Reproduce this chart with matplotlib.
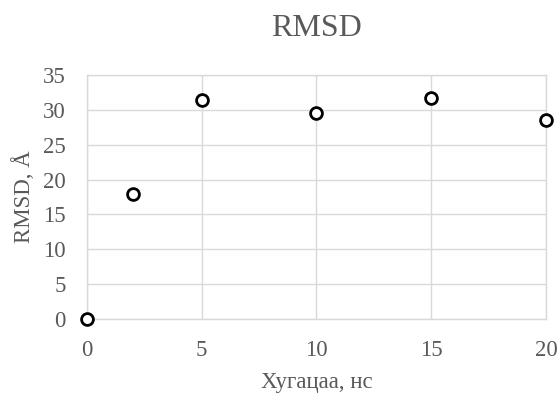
import matplotlib
matplotlib.use("Agg")
import matplotlib.pyplot as plt

# data
time_ns = [0, 2, 5, 10, 15, 20]
rmsd = [0.0, 17.9, 31.4, 29.5, 31.7, 28.6]
x_ticks = [0, 5, 10, 15, 20]
y_ticks = [0, 5, 10, 15, 20, 25, 30, 35]

text_color = "#595959"
grid_color = "#d9d9d9"

plt.rcParams["font.family"] = ["Liberation Serif", "DejaVu Serif"]

fig = plt.figure(figsize=(5.6, 3.94), dpi=100)
ax = fig.add_axes([0.155, 0.19, 0.82, 0.62])

ax.plot(time_ns, rmsd, linestyle="none", marker="o", markersize=8.5,
        markerfacecolor="white", markeredgecolor="black", markeredgewidth=2,
        clip_on=False, zorder=3)

ax.set_xlim(0, 20)
ax.set_ylim(0, 35)
ax.set_xticks(x_ticks)
ax.set_yticks(y_ticks)
ax.grid(True, color=grid_color, linewidth=1.0)
ax.set_axisbelow(True)
for s in ax.spines.values():
    s.set_color(grid_color)
    s.set_linewidth(1.0)
ax.tick_params(length=0, labelsize=16.5, labelcolor=text_color)
ax.tick_params(axis="y", pad=15)
ax.tick_params(axis="x", pad=15)

ax.set_title("RMSD", fontsize=23, color=text_color, pad=28)
ax.set_xlabel("Хугацаа, нс", fontsize=16.5, color=text_color, labelpad=8)
ax.set_ylabel("RMSD, Å", fontsize=16.5, color=text_color, labelpad=6)

fig.savefig("out.png", dpi=100)
